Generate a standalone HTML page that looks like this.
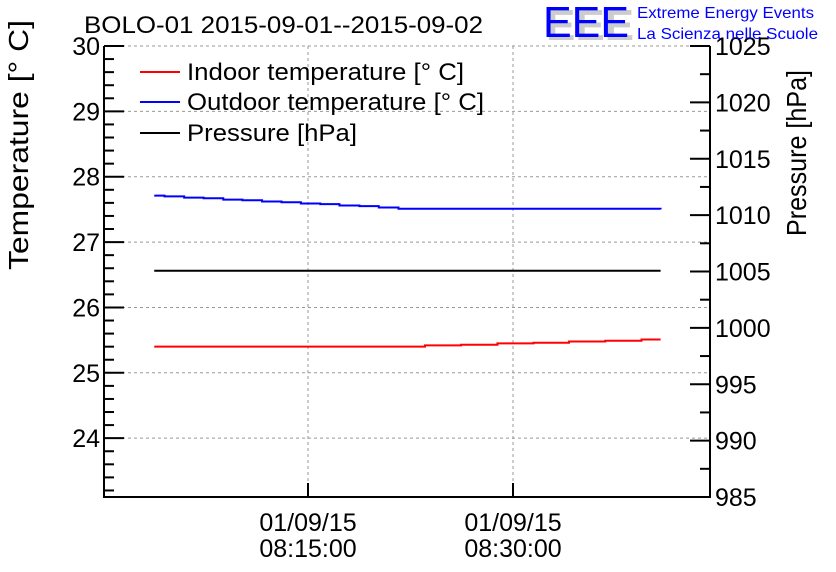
<!DOCTYPE html>
<html><head><meta charset="utf-8"><style>
body{margin:0;background:#fff}
svg{display:block;font-family:"Liberation Sans",sans-serif}
</style></head><body>
<svg id="chart" width="836" height="572" viewBox="0 0 836 572">
<rect width="836" height="572" fill="#fff"/>
<g id="grid"></g>
<g id="series"></g>
<g id="axes"></g>
<text x="84" y="33" font-size="24" textLength="399" lengthAdjust="spacingAndGlyphs">BOLO-01 2015-09-01--2015-09-02</text>
<g>
<text x="546" y="40" font-size="44" fill="#ccc" font-weight="bold" textLength="88" lengthAdjust="spacingAndGlyphs">EEE</text>
<text x="543" y="37" font-size="44" fill="#0000ff" textLength="86" lengthAdjust="spacingAndGlyphs">EEE</text>
<text x="637" y="18" font-size="16" fill="#0000ff" textLength="177" lengthAdjust="spacingAndGlyphs">Extreme Energy Events</text>
<text x="637" y="39" font-size="16" fill="#0000ff" textLength="181" lengthAdjust="spacingAndGlyphs">La Scienza nelle Scuole</text>
</g>
<text transform="translate(28,145) rotate(-90)" text-anchor="middle" font-size="28" textLength="250" lengthAdjust="spacingAndGlyphs">Temperature [° C]</text>
<text transform="translate(806,153) rotate(-90)" text-anchor="middle" font-size="28" textLength="166" lengthAdjust="spacingAndGlyphs">Pressure [hPa]</text>
<g>
<line x1="140" y1="72" x2="180" y2="72" stroke="#f00" stroke-width="2"/>
<text x="187" y="80" font-size="24" textLength="277" lengthAdjust="spacingAndGlyphs">Indoor temperature [° C]</text>
<line x1="140" y1="102" x2="180" y2="102" stroke="#00f" stroke-width="2"/>
<text x="187" y="110" font-size="24" textLength="297" lengthAdjust="spacingAndGlyphs">Outdoor temperature [° C]</text>
<line x1="140" y1="133" x2="180" y2="133" stroke="#000" stroke-width="2"/>
<text x="187" y="141" font-size="24" textLength="170" lengthAdjust="spacingAndGlyphs">Pressure [hPa]</text>
</g>
</svg>
<script>
const blueTimes=[3.75,4.5,5.94,7.36,8.8,10.2,11.64,13.06,14.48,15.9,17.3,18.76,20.18,21.62,40.8];
const blueVals=[27.71,27.70,27.68,27.67,27.65,27.64,27.62,27.61,27.59,27.58,27.56,27.55,27.53,27.51,27.50];
const redTimes=[3.75,23.56,26.2,28.86,31.5,34.1,36.75,39.4,40.8];
const redVals=[25.40,25.42,25.43,25.45,25.46,25.48,25.49,25.51,25.51];
const presTimes=[3.75,40.8];
const presVals=[1005.07,1005.07];
const xTickMinutes=[15,30];
const xTickLabels=[["01/09/15","08:15:00"],["01/09/15","08:30:00"]];
const leftTicks=[24,25,26,27,28,29,30];
const rightTicks=[985,990,995,1000,1005,1010,1015,1020,1025];

const L=104,R=710,T=46,B=497;
const X=t=>103+t*205/15;
const YT=v=>T+(30-v)*(B-T)/(30-23.1);
const YP=v=>T+(1025-v)*(B-T)/40;
const NS='http://www.w3.org/2000/svg';
function mk(tag,attrs,parent){const e=document.createElementNS(NS,tag);for(const k in attrs)e.setAttribute(k,attrs[k]);document.getElementById(parent).appendChild(e);return e;}

xTickMinutes.forEach(t=>{const e=mk('line',{x1:X(t),x2:X(t),y1:T,y2:B,stroke:'#999','stroke-dasharray':'3,3'},'grid');

});
leftTicks.forEach(v=>{const e=mk('line',{x1:L,x2:R,y1:YT(v),y2:YT(v),stroke:'#999','stroke-dasharray':'3,3'},'grid');

});

function step(ts,vs,y,color,name){let d='';for(let i=0;i<ts.length;i++){const x=X(ts[i]),yy=y(vs[i]);if(i===0)d+='M'+x+','+yy;else d+='H'+x+'V'+yy;}
const e=mk('path',{d:d,fill:'none',stroke:color,'stroke-width':2},'series');

}
step(blueTimes,blueVals,YT,'#00f','outdoor-temperature-line');
step(redTimes,redVals,YT,'#f00','indoor-temperature-line');
step(presTimes,presVals,YP,'#000','pressure-line');

const fr=mk('path',{d:`M${L},${T}V${B}H${R}V${T}`,fill:'none',stroke:'#000','stroke-width':2},'axes');


for(let v=23.2;v<=30.001;v+=0.2){const r=Math.round(v*10)/10;const major=Math.abs(r-Math.round(r))<0.01;
const e=mk('line',{x1:L,x2:L+(major?20:10),y1:YT(r),y2:YT(r),stroke:'#000','stroke-width':2},'axes');

}
leftTicks.forEach(v=>{const e=mk('text',{x:L-4,y:YT(v)+9,'text-anchor':'end','font-size':25},'axes');e.textContent=v;

});
for(let v=985;v<=1025;v+=2.5){const major=v%5===0;
const e=mk('line',{x1:R,x2:R-(major?20:10),y1:YP(v),y2:YP(v),stroke:'#000','stroke-width':2},'axes');

}
rightTicks.forEach(v=>{const e=mk('text',{x:R+5,y:YP(v)+9,'font-size':25},'axes');e.textContent=v;

});
xTickMinutes.forEach((t,i)=>{const e=mk('line',{x1:X(t),x2:X(t),y1:B,y2:B-14,stroke:'#000','stroke-width':2},'axes');


xTickLabels[i].forEach((s,j)=>{const tx=mk('text',{x:X(t),y:531+j*26,'text-anchor':'middle','font-size':25},'axes');tx.textContent=s;

});});
</script>
</body></html>
